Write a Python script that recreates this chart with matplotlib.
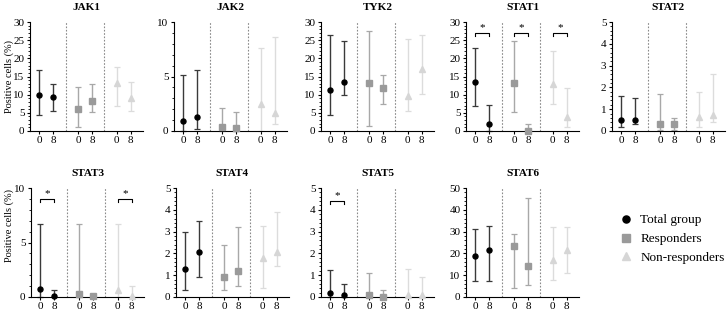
import matplotlib
matplotlib.use("Agg")
import matplotlib.pyplot as plt
from matplotlib.ticker import MultipleLocator
from matplotlib.lines import Line2D

plt.rcParams['font.family'] = 'serif'
plt.rcParams['font.serif'] = ['Liberation Serif', 'DejaVu Serif']

# data: mean, low, high for week 0 and week 8 per group
genes = ["JAK1", "JAK2", "TYK2", "STAT1", "STAT2", "STAT3", "STAT4", "STAT5", "STAT6"]
groups = ["Total group", "Responders", "Non-responders"]
weeks = ["0", "8"]

jak1_mid = [[10.0, 9.4], [6.1, 8.3], [13.3, 9.2]]
jak1_lo = [[4.5, 5.5], [1.0, 5.2], [6.8, 5.5]]
jak1_hi = [[16.7, 13.0], [12.0, 13.0], [17.5, 13.6]]

jak2_mid = [[0.9, 1.3], [0.4, 0.3], [2.5, 1.65]]
jak2_lo = [[0.0, 0.2], [0.0, 0.0], [0.0, 0.6]]
jak2_hi = [[5.1, 5.6], [2.1, 1.7], [7.6, 8.6]]

tyk2_mid = [[11.3, 13.6], [13.3, 11.9], [9.6, 17.0]]
tyk2_lo = [[4.3, 9.9], [1.3, 7.4], [5.5, 10.3]]
tyk2_hi = [[26.3, 24.7], [27.5, 15.3], [25.3, 26.5]]

stat1_mid = [[13.5, 1.8], [13.3, 0.1], [13.0, 3.8]]
stat1_lo = [[6.8, 0.0], [5.1, 0.0], [7.4, 1.0]]
stat1_hi = [[22.8, 7.1], [24.8, 1.8], [22.0, 11.8]]

stat2_mid = [[0.5, 0.5], [0.3, 0.3], [0.65, 0.75]]
stat2_lo = [[0.2, 0.3], [0.05, 0.05], [0.2, 0.4]]
stat2_hi = [[1.6, 1.5], [1.7, 0.6], [1.8, 2.6]]

stat3_mid = [[0.75, 0.1], [0.3, 0.05], [0.6, 0.05]]
stat3_lo = [[0.0, 0.0], [0.0, 0.0], [0.0, 0.0]]
stat3_hi = [[6.7, 0.6], [6.7, 0.1], [6.7, 1.0]]

stat4_mid = [[1.27, 2.07], [0.9, 1.2], [1.8, 2.05]]
stat4_lo = [[0.3, 0.9], [0.3, 0.5], [0.4, 1.4]]
stat4_hi = [[3.0, 3.47], [2.4, 3.2], [3.27, 3.9]]

stat5_mid = [[0.2, 0.1], [0.1, 0.02], [0.1, 0.1]]
stat5_lo = [[0.0, 0.0], [0.0, 0.0], [0.0, 0.0]]
stat5_hi = [[1.22, 0.6], [1.1, 0.3], [1.3, 0.92]]

stat6_mid = [[18.8, 21.5], [23.4, 14.0], [16.9, 21.5]]
stat6_lo = [[7.2, 7.2], [4.3, 5.4], [7.7, 11.0]]
stat6_hi = [[31.0, 32.7], [28.7, 45.2], [32.0, 32.3]]

mids = [jak1_mid, jak2_mid, tyk2_mid, stat1_mid, stat2_mid, stat3_mid, stat4_mid, stat5_mid, stat6_mid]
los = [jak1_lo, jak2_lo, tyk2_lo, stat1_lo, stat2_lo, stat3_lo, stat4_lo, stat5_lo, stat6_lo]
his = [jak1_hi, jak2_hi, tyk2_hi, stat1_hi, stat2_hi, stat3_hi, stat4_hi, stat5_hi, stat6_hi]

ymax = [30, 10, 30, 30, 5, 10, 5, 5, 50]
ymajor = [5, 5, 5, 5, 1, 5, 1, 1, 10]
yminor = [1, 1, 1, 1, 0.2, 1, 0.2, 0.2, 2]
# (gene, group index, bracket height)
stars = [("STAT1", 0, 27), ("STAT1", 1, 27), ("STAT1", 2, 27),
         ("STAT3", 0, 9), ("STAT3", 2, 9), ("STAT5", 0, 4.4)]

############
markers = ["o", "s", "^"]
mcols = ["black", "#9a9a9a", "#d6d6d6"]
ecols = ["#3a3a3a", "#a8a8a8", "#dcdcdc"]
msizes = [3.6, 4.2, 3.8]
group_x = [0, 2.75, 5.5]
dividers = [1.875, 4.625]

W, H = 728, 314
fig = plt.figure(figsize=(W / 100, H / 100), dpi=100)

lefts = [30, 174, 321, 466, 612, 31, 176, 321, 466]
tops = [22, 22, 22, 22, 22, 188, 188, 188, 188]
aw, ah = 113, 109

for k, gene in enumerate(genes):
    ax = fig.add_axes([lefts[k] / W, 1 - (tops[k] + ah) / H, aw / W, ah / H])
    xt = []
    for g in range(3):
        for w in range(2):
            x = group_x[g] + w
            xt.append(x)
            m = mids[k][g][w]
            lo = los[k][g][w]
            hi = his[k][g][w]
            ax.errorbar([x], [m], yerr=[[m - lo], [hi - m]], fmt='none', ecolor=ecols[g],
                        elinewidth=1.0, capsize=2, capthick=0.9, zorder=2, clip_on=False)
            ax.plot([x], [m], marker=markers[g], color=mcols[g], ms=msizes[g], ls='none',
                    zorder=3, clip_on=False)
    for d in dividers:
        ax.plot([d, d], [0, ymax[k]], ls=(0, (1.5, 1.5)), color="#8a8a8a", lw=0.8, zorder=1)
    for (sg, g, yb) in stars:
        if sg != gene:
            continue
        x0 = group_x[g]
        x1 = x0 + 1
        tk = ymax[k] * 0.03
        ax.plot([x0, x0, x1, x1], [yb - tk, yb, yb, yb - tk], color="black", lw=0.8)
        ax.text((x0 + x1) / 2, yb + ymax[k] * 0.01, "*", ha='center', va='bottom', fontsize=8)
    ax.set_xlim(-0.64, 7.36)
    ax.set_ylim(0, ymax[k])
    ax.set_xticks(xt)
    ax.set_xticklabels(weeks * 3)
    ax.yaxis.set_major_locator(MultipleLocator(ymajor[k]))
    ax.yaxis.set_minor_locator(MultipleLocator(yminor[k]))
    ax.spines['top'].set_visible(False)
    ax.spines['right'].set_visible(False)
    ax.spines['left'].set_linewidth(0.8)
    ax.spines['bottom'].set_linewidth(0.8)
    ax.tick_params(axis='both', labelsize=8, width=0.8, length=2.5, pad=1.5)
    ax.tick_params(axis='x', length=2.5, pad=1)
    ax.tick_params(axis='y', which='minor', width=0.6, length=1.6)
    ax.set_title(gene, fontsize=8, fontweight='bold', pad=9)
    if k == 0:
        ax.set_ylabel("Positive cells (%)", fontsize=7.5)
        ax.yaxis.set_label_coords(-0.14, 0.5)
    if k == 5:
        ax.set_ylabel("Positive cells (%)", fontsize=7.5)
        ax.yaxis.set_label_coords(-0.15, 0.66)

handles = []
for g in range(3):
    handles.append(Line2D([], [], marker=markers[g], color=mcols[g], ms=msizes[g] + 1.5, ls='none'))
fig.legend(handles, groups, loc='center left', bbox_to_anchor=(614 / W, 1 - 239 / H),
           frameon=False, fontsize=9.5, handletextpad=0.6, labelspacing=0.5,
           handlelength=1.0, borderaxespad=0)

fig.savefig("out.png", dpi=100)
